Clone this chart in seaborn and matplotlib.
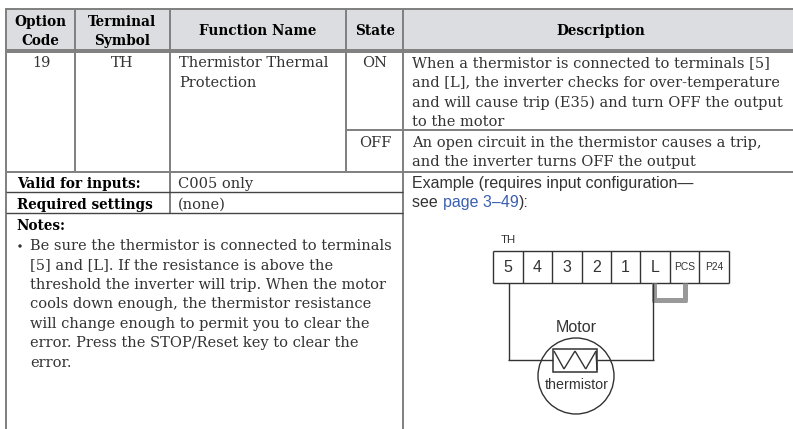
import pandas as pd
import seaborn as sns
import matplotlib.pyplot as plt
from matplotlib.patches import Circle, Rectangle

header_labels = ["Option\nCode", "Terminal\nSymbol", "Function Name", "State", "Description"]
option_code = "19"
terminal_symbol = "TH"
function_name = ["Thermistor Thermal", "Protection"]
states = ["ON", "OFF"]
desc_on = ["When a thermistor is connected to terminals [5]",
           "and [L], the inverter checks for over-temperature",
           "and will cause trip (E35) and turn OFF the output",
           "to the motor"]
desc_off = ["An open circuit in the thermistor causes a trip,",
            "and the inverter turns OFF the output"]
row_labels = ["Valid for inputs:", "Required settings"]
row_values = ["C005 only", "(none)"]
notes_title = "Notes:"
notes_lines = ["Be sure the thermistor is connected to terminals",
               "[5] and [L]. If the resistance is above the",
               "threshold the inverter will trip. When the motor",
               "cools down enough, the thermistor resistance",
               "will change enough to permit you to clear the",
               "error. Press the STOP/Reset key to clear the",
               "error."]
terminals = ["5", "4", "3", "2", "1", "L", "PCS", "P24"]

sns.set_theme(style="white")
plt.rcParams['font.family'] = ['DejaVu Serif']

fig = plt.figure(figsize=(7.93, 4.29), dpi=100)
ax = fig.add_axes([0, 0, 1, 1])
ax.set_xlim(0, 793)
ax.set_ylim(429, 0)
ax.axis('off')

GREY = "#7f7f7f"
DARK = "#333333"
SERIF = 10.5
BOLD = 9.8
SANS = 11.5


def rules(segs, color, lw):
    rows = []
    for i, (x0, y0, x1, y1) in enumerate(segs):
        rows.append({'rule': i, 'x': x0, 'y': y0})
        rows.append({'rule': i, 'x': x1, 'y': y1})
    sns.lineplot(data=pd.DataFrame(rows), x='x', y='y', units='rule', estimator=None,
                 sort=False, color=color, lw=lw, legend=False, ax=ax,
                 solid_capstyle='butt')


ax.add_patch(Rectangle((6, 9), 787, 40, color="#dcdde0", lw=0, zorder=0))

rules([(6, 9, 793, 9), (6, 49.5, 793, 49.5), (6, 51.5, 793, 51.5), (6, 171.5, 793, 171.5),
       (346, 130, 793, 130), (6, 8, 6, 429), (75, 9, 75, 171), (170, 9, 170, 213),
       (346, 9, 346, 171), (403, 9, 403, 429)], GREY, 1.4)
rules([(6, 192, 403, 192), (6, 212.5, 403, 212.5)], "#444444", 1.0)

# header
for lab, x, y in zip(header_labels, [40, 122, 258, 375, 601], [35, 35, 35, 35, 35]):
    parts = lab.split("\n")
    if len(parts) == 2:
        ax.text(x, y - 9, parts[0], ha='center', va='baseline', fontsize=BOLD,
                fontweight='bold', color='black')
        ax.text(x, y + 10, parts[1], ha='center', va='baseline', fontsize=BOLD,
                fontweight='bold', color='black')
    else:
        ax.text(x, y, lab, ha='center', va='baseline', fontsize=BOLD,
                fontweight='bold', color='black')

# body
ax.text(41, 67, option_code, ha='center', va='baseline', fontsize=SERIF, color=DARK)
ax.text(122, 67, terminal_symbol, ha='center', va='baseline', fontsize=SERIF, color=DARK)
for line, y in zip(function_name, [67, 87]):
    ax.text(179, y, line, va='baseline', fontsize=SERIF, color=DARK)
for s, y in zip(states, [67, 147]):
    ax.text(375, y, s, ha='center', va='baseline', fontsize=SERIF, color=DARK)
for line, y in zip(desc_on, [67, 87, 107, 126]):
    ax.text(412, y, line, va='baseline', fontsize=SERIF, color=DARK)
for line, y in zip(desc_off, [147, 166]):
    ax.text(412, y, line, va='baseline', fontsize=SERIF, color=DARK)

# settings rows
for lab, val, y in zip(row_labels, row_values, [188, 209]):
    ax.text(17, y, lab, va='baseline', fontsize=BOLD, fontweight='bold', color='black')
    ax.text(178, y, val, va='baseline', fontsize=SERIF, color=DARK)

# notes
ax.text(16, 230, notes_title, va='baseline', fontsize=BOLD, fontweight='bold', color='black')
ax.add_patch(Circle((20, 246), 1.7, color=DARK, lw=0))
for line, y in zip(notes_lines, [250, 269, 289, 308, 328, 347, 367]):
    ax.text(30, y, line, va='baseline', fontsize=SERIF, color=DARK)

# example
sans = ['Liberation Sans']
ax.text(412, 188, "Example (requires input configuration\u2014", va='baseline',
        fontsize=SANS, family=sans, color=DARK)
ax.text(412, 207, "see ", va='baseline', fontsize=SANS, family=sans, color=DARK)
ax.text(443, 207, "page 3\u201349", va='baseline', fontsize=SANS, family=sans, color="#3a5fb0")
ax.text(519, 207, "):", va='baseline', fontsize=SANS, family=sans, color=DARK)

# terminal strip
ax.text(508, 243, terminal_symbol, ha='center', va='baseline', fontsize=8.2, family=sans,
        color=DARK)
edges = [493.3 + 29.4 * i for i in range(len(terminals) + 1)]
rules([(edges[0], 251, edges[-1], 251), (edges[0], 282.7, edges[-1], 282.7)]
      + [(e, 251, e, 282.7) for e in edges], "#333333", 1.0)
for i, lab in enumerate(terminals):
    size = 7.4 if len(lab) > 1 else 11.5
    ax.text((edges[i] + edges[i + 1]) / 2, 271.5 if len(lab) == 1 else 270.5, lab, ha='center',
            va='baseline', fontsize=size, family=sans, color=DARK)

# jumper
rules([(653.5, 283, 653.5, 301), (651.7, 299.5, 687, 299.5), (685, 283, 685, 301)], "#999999", 3.6)

# motor wiring
rules([(508.7, 283, 508.7, 360), (508, 360, 553.3, 360), (653.3, 283, 653.3, 360),
       (597.3, 360, 654, 360)], "#333333", 1.0)
ax.add_patch(Circle((576, 376), 38, fill=False, ec="#333333", lw=1.0))
ax.add_patch(Rectangle((553.3, 349.3), 44, 23, fill=False, ec="#333333", lw=1.1))
rules([(554, 351, 564, 369), (564, 369, 575, 351), (575, 351, 585.7, 369),
       (585.7, 369, 596, 351), (596, 351, 597, 370)], "#333333", 1.0)
ax.text(576.5, 331.5, "Motor", ha='center', va='baseline', fontsize=11.5, family=sans, color=DARK)
ax.text(577, 389, "thermistor", ha='center', va='baseline', fontsize=10.3, family=sans, color=DARK)

fig.savefig("out.png", dpi=100)
